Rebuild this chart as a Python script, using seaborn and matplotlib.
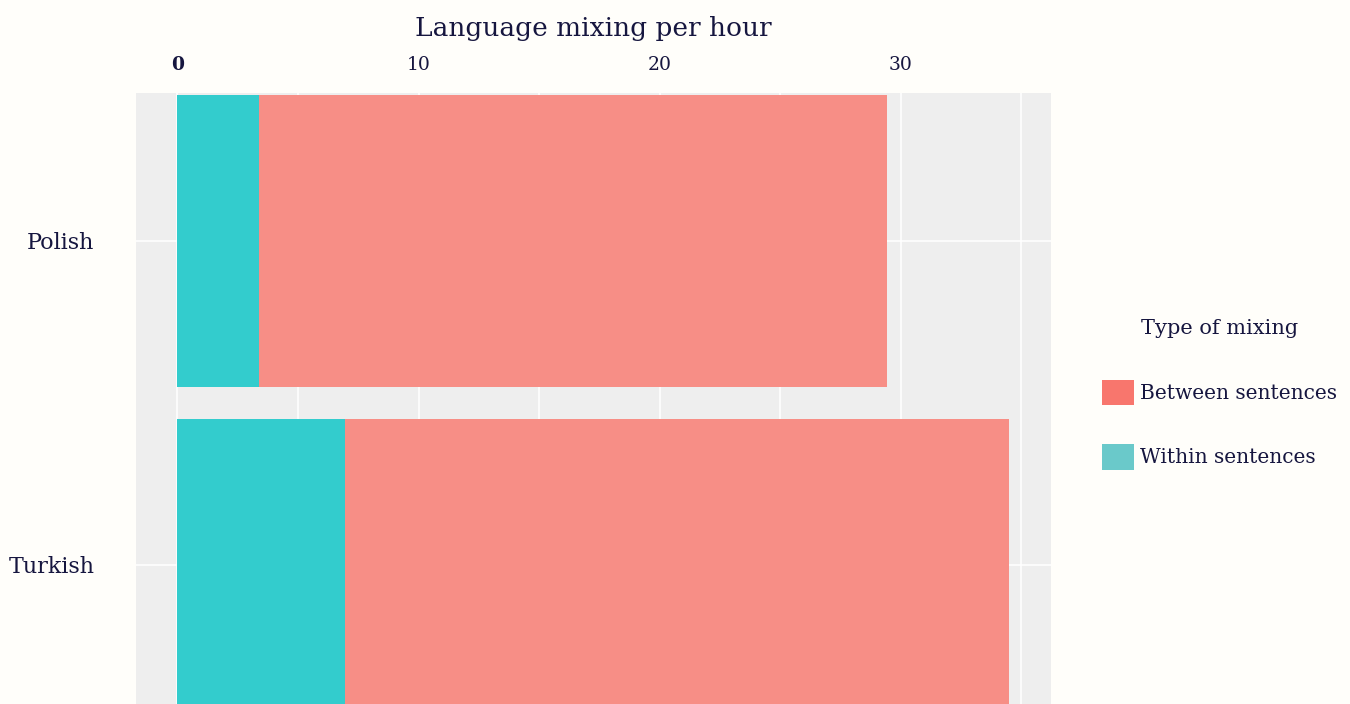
import matplotlib
matplotlib.use("Agg")
import matplotlib.pyplot as plt
import seaborn as sns
import pandas as pd
from matplotlib.patches import Patch
from matplotlib.ticker import MultipleLocator

languages = ["Polish", "Turkish"]
within = [3.4, 6.95]
between = [26.05, 27.55]
legend_labels = ["Between sentences", "Within sentences"]
x_ticks = [0, 10, 20, 30]

df = pd.DataFrame({"language": languages, "within": within, "between": between})
df["total"] = df["within"] + df["between"]

sns.set_theme(style="white")
plt.rcParams["font.family"] = ["DejaVu Serif"]
text_col = "#16163f"
bg = "#fffefa"

fig = plt.figure(figsize=(13.5, 7.04), dpi=100, facecolor=bg)
ax = fig.add_axes([136/1350, 0.0, (1051-136)/1350, 1 - 93/704])
ax.set_facecolor("#eeeeee")

sns.barplot(data=df, y="language", x="total", orient="h", color="#f78e86",
            saturation=1, width=0.9, ax=ax, zorder=2, linewidth=0, edgecolor="none")
sns.barplot(data=df, y="language", x="within", orient="h", color="#33cccd",
            saturation=1, width=0.9, ax=ax, zorder=3, linewidth=0, edgecolor="none")

ax.set_xlim(-1.72, 36.24)
ax.set_ylim(1.43, -0.456)
ax.xaxis.tick_top()
ax.xaxis.set_label_position("top")
ax.set_xticks(x_ticks)
ax.set_xticklabels([str(t) for t in x_ticks])
ax.xaxis.set_minor_locator(MultipleLocator(5))
ax.grid(True, which="both", axis="x", color="white", linewidth=1.1, zorder=0)
ax.grid(True, which="major", axis="y", color="white", linewidth=1.1, zorder=0)
ax.set_axisbelow(True)
for s in ax.spines.values():
    s.set_visible(False)
ax.tick_params(axis="x", which="both", length=0, pad=14, labelsize=13.5, labelcolor=text_col)
ax.tick_params(axis="y", length=3, width=1.2, color="#444444", pad=27, labelsize=16, labelcolor=text_col)
ax.get_xticklabels()[0].set_fontweight("bold")
ax.set_xlabel("Language mixing per hour", fontsize=19, color=text_col, labelpad=14)
ax.set_ylabel("")

handles = [Patch(facecolor="#f8766d", edgecolor="none"),
           Patch(facecolor="#6ac9ca", edgecolor="none")]
leg = fig.legend(handles, legend_labels, title="Type of mixing",
                 loc="center left", bbox_to_anchor=(1094/1350, 0.44),
                 frameon=False, fontsize=14.5, title_fontsize=15,
                 labelspacing=1.9, handlelength=1.6, handleheight=1.6,
                 handletextpad=0.3, borderaxespad=0)
leg.get_title().set_color(text_col)
leg._legend_box.sep = 30
for t in leg.get_texts():
    t.set_color(text_col)

fig.savefig("out.png", dpi=100, facecolor=bg)
